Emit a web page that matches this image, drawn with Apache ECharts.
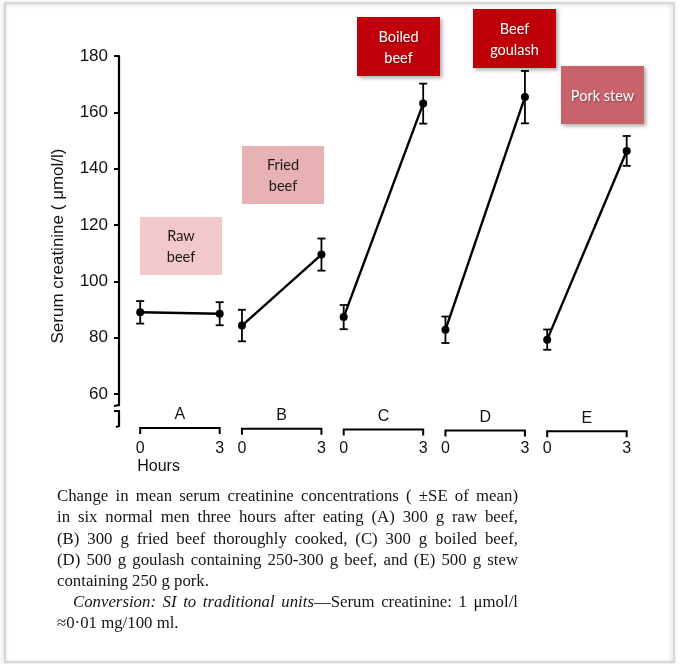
<!DOCTYPE html>
<html>
<head>
<meta charset="utf-8">
<script src="https://cdn.jsdelivr.net/npm/echarts@6/dist/echarts.min.js"></script>
<style>
html,body{margin:0;padding:0;background:#fff;}
#chart{width:680px;height:664px;}
</style>
</head>
<body>
<div id="chart"></div>
<script>
// ---------------- data ----------------
const groups = ['A', 'B', 'C', 'D', 'E'];
const hours = [0, 3];
const hourLabels = ['0', '3'];
const mean0 = [89.0, 84.3, 87.3, 82.8, 79.3];     // serum creatinine at 0 h (µmol/l)
const mean3 = [88.5, 109.5, 163.1, 165.4, 146.3]; // serum creatinine at 3 h (µmol/l)
const se0 = [4.0, 5.6, 4.3, 4.7, 3.6];
const se3 = [4.1, 5.7, 7.1, 9.3, 5.3];
const yTicks = [60, 80, 100, 120, 140, 160, 180];
const foodLabels = ['Raw\nbeef', 'Fried\nbeef', 'Boiled\nbeef', 'Beef\ngoulash', 'Pork stew'];
const yAxisTitle = 'Serum creatinine ( \u03bcmol/l)';
const hoursTitle = 'Hours';
const captionLines = [
  [['Change in mean serum creatinine concentrations ( \u00b1SE of mean)', 0]],
  [['in six normal men three hours after eating (A) 300 g raw beef,', 0]],
  [['(B) 300 g fried beef thoroughly cooked, (C) 300 g boiled beef,', 0]],
  [['(D) 500 g goulash containing 250-300 g beef, and (E) 500 g stew', 0]],
  [['containing 250 g pork.', 0]],
  [['Conversion: SI to traditional units', 1], ['\u2014Serum creatinine: 1 \u03bcmol/l', 0]],
  [['\u22480\u00b701 mg/100 ml.', 0]]
];

// ---------------- layout / style ----------------
const GAP = 3.84;          // spacing between group origins, in hour units
const X_MIN = -0.8, X_MAX = 18.9;
const Y_MIN = yTicks[0], Y_MAX = yTicks[yTicks.length - 1];
const boxStyles = [
  {x: 140, y: 217, w: 82, h: 58, fill: '#f2c8cb', color: '#1a1a1a', shadow: false},
  {x: 242, y: 146, w: 82, h: 58, fill: '#e8b1b3', color: '#1a1a1a', shadow: false},
  {x: 357, y: 17, w: 83, h: 59, fill: '#c0000b', color: '#ffffff', shadow: true},
  {x: 473, y: 9, w: 83, h: 59, fill: '#c00009', color: '#ffffff', shadow: true},
  {x: 561, y: 66, w: 83, h: 58, fill: '#c8636b', color: '#ffffff', shadow: true}
];
const SANS = '"Liberation Sans", Arial, sans-serif';
const SERIF = '"Liberation Serif", "Times New Roman", serif';
const BOXFONT = 'Lato, "Open Sans", sans-serif';

const chart = echarts.init(document.getElementById('chart'));

// line series (one per group)
const lineSeries = groups.map((g, i) => ({
  type: 'line',
  name: g,
  data: [[i * GAP + hours[0], mean0[i]], [i * GAP + hours[1], mean3[i]]],
  symbol: 'circle',
  symbolSize: 8,
  itemStyle: {color: '#000'},
  lineStyle: {color: '#000', width: 2.4},
  z: 5,
  silent: true,
  animation: false
}));

// error bars
const errData = [];
groups.forEach((g, i) => {
  errData.push([i * GAP + hours[0], mean0[i] - se0[i], mean0[i] + se0[i]]);
  errData.push([i * GAP + hours[1], mean3[i] - se3[i], mean3[i] + se3[i]]);
});
const errSeries = {
  type: 'custom',
  data: errData,
  z: 4,
  silent: true,
  animation: false,
  renderItem: function (params, api) {
    const lo = api.coord([api.value(0), api.value(1)]);
    const hi = api.coord([api.value(0), api.value(2)]);
    const cap = 4;
    const st = {stroke: '#000', lineWidth: 1.8};
    return {
      type: 'group',
      children: [
        {type: 'line', shape: {x1: lo[0], y1: lo[1], x2: hi[0], y2: hi[1]}, style: st},
        {type: 'line', shape: {x1: lo[0] - cap, y1: lo[1], x2: lo[0] + cap, y2: lo[1]}, style: st},
        {type: 'line', shape: {x1: hi[0] - cap, y1: hi[1], x2: hi[0] + cap, y2: hi[1]}, style: st}
      ]
    };
  }
};

// group brackets, letters and hour labels below the plot
const decoSeries = {
  type: 'custom',
  data: groups.map((g, i) => [i]),
  clip: false,
  silent: true,
  animation: false,
  z: 3,
  renderItem: function (params, api) {
    const i = api.value(0);
    const p0 = api.coord([i * GAP + hours[0], Y_MIN]);
    const p3 = api.coord([i * GAP + hours[1], Y_MIN]);
    const base = p0[1];
    const by = base + 34 + i * 0.8;
    const st = {stroke: '#000', lineWidth: 2};
    const ch = [
      {type: 'polyline', shape: {points: [[p0[0], by + 6], [p0[0], by], [p3[0], by], [p3[0], by + 6]]}, style: Object.assign({fill: null}, st)},
      {type: 'text', style: {text: groups[i], x: (p0[0] + p3[0]) / 2, y: by - 13, align: 'center', verticalAlign: 'middle', font: '16px ' + SANS, fill: '#111'}},
      {type: 'text', style: {text: hourLabels[0], x: p0[0], y: base + 55, align: 'center', verticalAlign: 'middle', font: '16px ' + SANS, fill: '#111'}},
      {type: 'text', style: {text: hourLabels[1], x: p3[0], y: base + 55, align: 'center', verticalAlign: 'middle', font: '16px ' + SANS, fill: '#111'}}
    ];
    if (i === 0) {
      ch.push({type: 'text', style: {text: hoursTitle, x: p0[0] - 3, y: base + 73, align: 'left', verticalAlign: 'middle', font: '16px ' + SANS, fill: '#111'}});
      // axis break below 60
      const ax = api.coord([X_MIN, Y_MIN])[0];
      ch.push({type: 'polyline', shape: {points: [[ax, base], [ax, base + 11], [ax - 5, base + 12]]}, style: {stroke: '#000', lineWidth: 2.2, fill: null}});
      ch.push({type: 'polyline', shape: {points: [[ax - 5, base + 17], [ax, base + 17], [ax, base + 32], [ax - 3, base + 33]]}, style: {stroke: '#000', lineWidth: 2.2, fill: null}});
    }
    return {type: 'group', children: ch};
  }
};

// ---------------- caption (justified by measuring words) ----------------
const measureCtx = document.createElement('canvas').getContext('2d');
function fontOf(it, size) { return (it ? 'italic ' : '') + size + 'px ' + SERIF; }
function buildCaption() {
  const els = [];
  const size = 16.8;
  const left = 57, right = 518, lineY0 = 497, lh = 21.1;
  captionLines.forEach((segs, li) => {
    const indent = li === 5 ? 16 : 0;
    const justify = li <= 3 || li === 5;
    const tokens = [];
    segs.forEach((seg, si) => {
      const parts = seg[0].split(' ');
      parts.forEach((p, pi) => {
        if (pi === 0 && si > 0 && !seg[0].startsWith(' ') && tokens.length) {
          tokens[tokens.length - 1].push({t: p, it: seg[1]});
        } else if (p.length) {
          tokens.push([{t: p, it: seg[1]}]);
        }
      });
    });
    const widths = tokens.map(tok => tok.reduce((s, pc) => {
      measureCtx.font = fontOf(pc.it, size);
      return s + measureCtx.measureText(pc.t).width;
    }, 0));
    const total = widths.reduce((a, b) => a + b, 0);
    measureCtx.font = fontOf(0, size);
    let gap = measureCtx.measureText(' ').width;
    const x0 = left + indent;
    if (justify && tokens.length > 1) gap = Math.max(2, (right - x0 - total) / (tokens.length - 1));
    let x = x0;
    const y = lineY0 + li * lh;
    tokens.forEach((tok, ti) => {
      let px = x;
      tok.forEach(pc => {
        measureCtx.font = fontOf(pc.it, size);
        els.push({type: 'text', silent: true, style: {text: pc.t, x: px, y: y, align: 'left', verticalAlign: 'middle', font: fontOf(pc.it, size), fill: '#151515'}});
        px += measureCtx.measureText(pc.t).width;
      });
      x += widths[ti] + gap;
    });
  });
  return els;
}

// ---------------- annotation boxes ----------------
const boxEls = [];
foodLabels.forEach((lab, i) => {
  const b = boxStyles[i];
  boxEls.push({
    type: 'rect', silent: true, z: 10,
    shape: {x: b.x, y: b.y, width: b.w, height: b.h},
    style: Object.assign({fill: b.fill}, b.shadow ? {shadowBlur: 4, shadowOffsetX: 1.5, shadowOffsetY: 2, shadowColor: 'rgba(0,0,0,0.35)'} : {})
  });
  boxEls.push({
    type: 'text', silent: true, z: 11,
    style: Object.assign({
      text: lab, x: b.x + b.w / 2, y: b.y + b.h / 2 + 1, align: 'center', verticalAlign: 'middle',
      font: '14.5px ' + BOXFONT, lineHeight: 21, fill: b.color
    }, b.shadow ? {textShadowBlur: 2, textShadowColor: 'rgba(0,0,0,0.35)', textShadowOffsetX: 1, textShadowOffsetY: 1} : {})
  });
});

const option = {
  backgroundColor: '#ffffff',
  animation: false,
  grid: {left: 119, right: 39, top: 56, bottom: 270, containLabel: false},
  xAxis: {
    type: 'value', min: X_MIN, max: X_MAX,
    show: false
  },
  yAxis: {
    type: 'value', min: Y_MIN, max: Y_MAX, interval: 20,
    axisLine: {show: true, onZero: false, lineStyle: {color: '#000', width: 2.2}},
    axisTick: {show: true, inside: false, length: 5, lineStyle: {color: '#000', width: 2}},
    axisLabel: {show: true, margin: 11, color: '#111', fontSize: 17, fontFamily: SANS},
    splitLine: {show: false}
  },
  graphic: [
    {type: 'rect', silent: true, z: -1,
      shape: {x: 5, y: 3, width: 669, height: 659},
      style: {fill: null, stroke: '#cfcfcf', lineWidth: 1.5, shadowBlur: 4, shadowOffsetX: -1, shadowOffsetY: 1, shadowColor: 'rgba(0,0,0,0.25)'}},
    {type: 'text', silent: true, x: 58, y: 246, rotation: Math.PI / 2,
      style: {text: yAxisTitle, x: 0, y: 0, align: 'center', verticalAlign: 'middle', font: '17px ' + SANS, fill: '#111'}}
  ].concat(boxEls).concat(buildCaption()),
  series: lineSeries.concat([errSeries, decoSeries])
};
chart.setOption(option);
</script>
</body>
</html>
